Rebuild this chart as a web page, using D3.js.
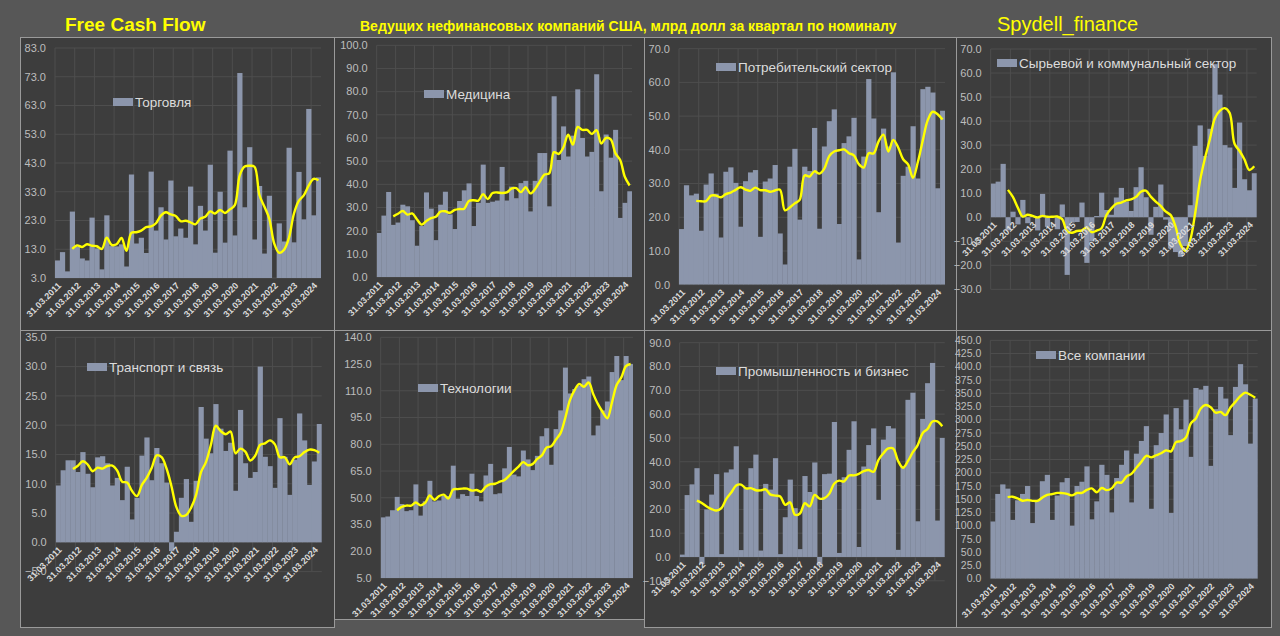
<!DOCTYPE html>
<html>
<head>
<meta charset="utf-8">
<script src="https://cdn.jsdelivr.net/npm/d3@7"></script>
<style>
  body { margin: 0; background: #575757; }
  svg { display: block; font-family: "Liberation Sans", Arial, sans-serif; }
</style>
</head>
<body>
<svg width="1280" height="636"></svg>
<script>
// quarter ends, 2011Q1 .. 2024Q2
const quarters = [
  '31.03.2011','30.06.2011','30.09.2011','31.12.2011','31.03.2012','30.06.2012','30.09.2012','31.12.2012',
  '31.03.2013','30.06.2013','30.09.2013','31.12.2013','31.03.2014','30.06.2014','30.09.2014','31.12.2014',
  '31.03.2015','30.06.2015','30.09.2015','31.12.2015','31.03.2016','30.06.2016','30.09.2016','31.12.2016',
  '31.03.2017','30.06.2017','30.09.2017','31.12.2017','31.03.2018','30.06.2018','30.09.2018','31.12.2018',
  '31.03.2019','30.06.2019','30.09.2019','31.12.2019','31.03.2020','30.06.2020','30.09.2020','31.12.2020',
  '31.03.2021','30.06.2021','30.09.2021','31.12.2021','31.03.2022','30.06.2022','30.09.2022','31.12.2022',
  '31.03.2023','30.06.2023','30.09.2023','31.12.2023','31.03.2024','30.06.2024'];

const tickLabels = ['31.03.2011','31.03.2012','31.03.2013','31.03.2014','31.03.2015','31.03.2016','31.03.2017',
  '31.03.2018','31.03.2019','31.03.2020','31.03.2021','31.03.2022','31.03.2023','31.03.2024'];

// FCF, bn USD per quarter
const trade = [9.1,12,5.3,26.1,14,9.8,9.1,24,13.3,6, 24.8,14.1,14,14.7,7,39,15,17,11.7,40,
  19.5,27.6,16.4,36.9,17.5,20.2,17,34.8,14.7,28.1, 19.5,42.4,11.8,33,15.3,47.3,17.8,74.3,27.6,48.5,
  16.4,35,11.5,31.6,-18,22,15.7,48.3,15.4,39.9, 23.4,61.8,24.8,38];
const health = [19,26.5,36.7,22.5,23.5,31.2,30.5,24.5,13.5,22, 36.5,29.5,15.9,31.2,36.8,27,20.7,32.8,37.4,40.4,
  22,32,48.5,32,32.5,33,47.5,33,39,34, 40.5,41.5,28.3,41.5,53.5,53.5,30.5,78,50.5,65,
  52,61,81,60,52,54,87.5,37,61.5,51.5, 63.5,25.5,32,37];
const consumer = [16.5,29.5,26.5,27,16,29.7,33,27,14,33.5, 34.8,30.2,17.2,30.7,33.3,34,14.2,30.6,31.5,35.5,
  15.2,6,35,40.3,19.3,35,33.7,46.5,16.6,41, 48.5,52,18,42,44,49.5,7.5,38,61,49.3,
  21.5,46.3,41,63,12.5,32.3,35,47,31.5,58, 58.7,57,28.6,51.6];
const resources = [14,14.8,22.2,-5.5,2.3,-3,7.2,-2.5,0.5,-5.5, 9.7,-4,0.5,-5,5.3,-24,-2.2,-2,6.1,-19,
  -10,0.5,10.2,3,1,8.2,12.2,6.5,2.6,12.5, 20.8,8.3,-7.3,4.3,13.6,-1,-13,-14.5,-16.5,-12,
  5,29.7,38.2,25.5,36.8,63.7,51,30,29,12.2, 39.4,15.8,11.2,18.3];
const transport = [9.7,12.3,14,14,12,15.4,11.7,9.4,14.5,14.7, 13.5,9.7,11,7.2,12.9,3.9,7.6,14.8,17.9,10.6,
  16.1,13.5,10.2,-1.5,1.8,7.6,10.8,3.5,10.5,23.1, 17.7,15.2,23.6,19.4,15.6,17,8.8,22.6,13.5,11,
  12,30,14.6,13,9.3,21.2,14.6,8.1,14.1,22, 17.4,9.8,13.8,20.2];
const tech = [39,39.5,43,50.5,46.5,42.5,43,57.5,40,48, 59.5,48,48.5,51,51,68,49.5,52,51,63.5,
  51,48,62.5,69,52,52.5,66.5,78.5,63,62, 76.5,71.5,65.5,73.5,84.5,89,68.5,88.5,99,123,
  108.5,111,113,116.5,118,85,90.5,99,104,120.5, 129.5,116,129.5,125];
const industry = [1,26,30.5,37.3,-3,20,26.2,34.8,1.2,35.5, 36.8,46.5,2.9,29,37.3,43,2.7,30.7,28.3,41.5,
  1.2,16.7,32.5,20.5,3.3,34,27.3,39.7,-3,34.8, 35,56.7,1.7,33.5,45,57,4.2,38,47,54,
  24,49.3,55,54,3,38,66,69,15,58, 73,81.5,15.3,50];
const total = [108,160,178,170,111,148,160,175,105,148, 184,196,111,157,182,190,100,175,183,212,
  112,146,215,196,125,190,215,242,144,236, 260,288,132,252,275,310,124,322,282,338,
  230,360,357,364,213,320,362,340,271,362, 405,367,255,340];

const seriesNames = ['Торговля','Медицина','Потребительский сектор','Сырьевой и коммунальный сектор',
  'Транспорт и связь','Технологии','Промышленность и бизнес','Все компании'];
const seriesData = [trade, health, consumer, resources, transport, tech, industry, total];
const yDomains = [[3,83],[0,100],[0,70],[-30,70],[-5,35],[5,140],[-10,90],[0,450]];
const ySteps = [10,10,10,10,5,15,10,25];

// layout (pixels)
const layout = [
  {box:[20.5,37.5,314,293],  px:[55,321],    py:[278,48],    lg:[113,98]},
  {box:[334.5,37.5,310,293], px:[376.7,632], py:[277,45.3],  lg:[424,90]},
  {box:[644.5,37.5,312,293], px:[679,945],   py:[284.7,48.7],lg:[716,63]},
  {box:[956.5,37.5,315,293], px:[990.7,1256.7], py:[289.3,49], lg:[997,59]},
  {box:[20.5,330.5,314,297], px:[55.7,321.7],py:[571.6,337.3],lg:[87,363]},
  {box:[334.5,330.5,310,289],px:[380.7,633], py:[578,337.3], lg:[418,384]},
  {box:[644.5,330.5,312,297],px:[679.7,944.7],py:[580.8,342.7],lg:[716,367]},
  {box:[956.5,330.5,315,297],px:[990.3,1257.7],py:[578.7,340.3],lg:[1036,351]}
];

const barColor = '#8c96ac', gridColor = '#4e4e4e', lineColor = '#ffff00';
const narrow = '"Liberation Sans Narrow", "Liberation Sans", sans-serif';
const svg = d3.select('svg');

// header
svg.append('text').attr('x',65).attr('y',31).text('Free Cash Flow')
  .attr('fill','#ffff00').style('font-family',narrow)
  .style('font-weight','bold').style('font-size','19px');
svg.append('text').attr('x',360).attr('y',31).text('Ведущих нефинансовых компаний США, млрд долл за квартал по номиналу')
  .attr('fill','#ffff00').style('font-family',narrow)
  .style('font-weight','bold').style('font-size','14px');
svg.append('text').attr('x',997).attr('y',31).text('Spydell_finance')
  .attr('fill','#ffff00').style('font-family',narrow)
  .style('font-size','20px');

seriesData.forEach(function(vals, k){
  const L = layout[k], dom = yDomains[k];
  const g = svg.append('g');

  g.append('rect').attr('x',L.box[0]).attr('y',L.box[1]).attr('width',L.box[2]).attr('height',L.box[3])
    .attr('fill','#3d3d3d').attr('stroke','#9a9a9a').attr('stroke-width',1);

  const x = d3.scaleBand().domain(quarters).range(L.px).paddingInner(0).paddingOuter(0);
  const y = d3.scaleLinear().domain(dom).range(L.py);
  const base = Math.max(0, dom[0]);   // bars start at 0, or at the axis minimum if it is above 0
  const ticks = d3.range(dom[0], dom[1] + ySteps[k]/2, ySteps[k]);

  // gridlines
  g.append('g').selectAll('line').data(ticks).join('line')
    .attr('x1',L.px[0]).attr('x2',L.px[1]).attr('y1',d=>y(d)).attr('y2',d=>y(d))
    .attr('stroke',gridColor).attr('stroke-width',1);
  g.append('g').selectAll('line').data(tickLabels).join('line')
    .attr('x1',d=>x(d)).attr('x2',d=>x(d)).attr('y1',L.py[1]).attr('y2',L.py[0])
    .attr('stroke',gridColor).attr('stroke-width',1);

  const clipId = 'clip' + k;
  svg.append('clipPath').attr('id',clipId).append('rect')
    .attr('x',L.px[0]).attr('y',L.py[1]).attr('width',L.px[1]-L.px[0]).attr('height',L.py[0]-L.py[1]);

  // bars
  const plot = g.append('g').attr('clip-path','url(#'+clipId+')');
  plot.selectAll('rect').data(vals).join('rect')
    .attr('x',(d,i)=>x(quarters[i]))
    .attr('width',x.bandwidth()+0.3)
    .attr('y',d=>d >= base ? y(d) : y(base))
    .attr('height',d=>d >= base ? y(base)-y(d) : y(Math.max(d, dom[0]))-y(base))
    .attr('fill',barColor);

  // yellow line: Excel 4-quarter moving average trendline
  const ma = vals.map((d,i)=> i < 3 ? null : d3.mean(vals.slice(i-3, i+1)));
  const line = d3.line().defined(d=>d !== null)
    .x((d,i)=>x(quarters[i]) + x.bandwidth()/2).y(d=>y(d))
    .curve(d3.curveCatmullRom.alpha(0.5));
  plot.append('path').datum(ma).attr('d',line)
    .attr('fill','none').attr('stroke',lineColor).attr('stroke-width',2.4)
    .attr('stroke-linejoin','round');

  // y axis labels
  g.append('g').selectAll('text').data(ticks).join('text')
    .attr('x',L.px[0]-9).attr('y',d=>y(d)).attr('dy','0.35em')
    .attr('text-anchor','end').attr('fill','#bdbdbd')
    .style('font-size', k === 7 ? '10.5px' : '11px')
    .text(d=>d3.format('.1f')(d));

  // x axis labels (next to axis)
  const yAxis = y(base);
  g.append('g').selectAll('text').data(tickLabels).join('text')
    .attr('transform',d=>'translate('+(x(d)+x.bandwidth()/2+2)+','+(yAxis+6)+') rotate(-45)')
    .attr('text-anchor','end').attr('dy','0.35em').attr('fill','#dadada')
    .style('font-size','9px').style('font-weight','bold')
    .text(d=>d);

  // legend
  g.append('rect').attr('x',L.lg[0]).attr('y',L.lg[1]).attr('width',20).attr('height',8).attr('fill',barColor);
  g.append('text').attr('x',L.lg[0]+22).attr('y',L.lg[1]+4).attr('dy','0.35em')
    .attr('fill','#dcdcdc').style('font-size','13.5px').text(seriesNames[k]);
});
</script>
</body>
</html>
